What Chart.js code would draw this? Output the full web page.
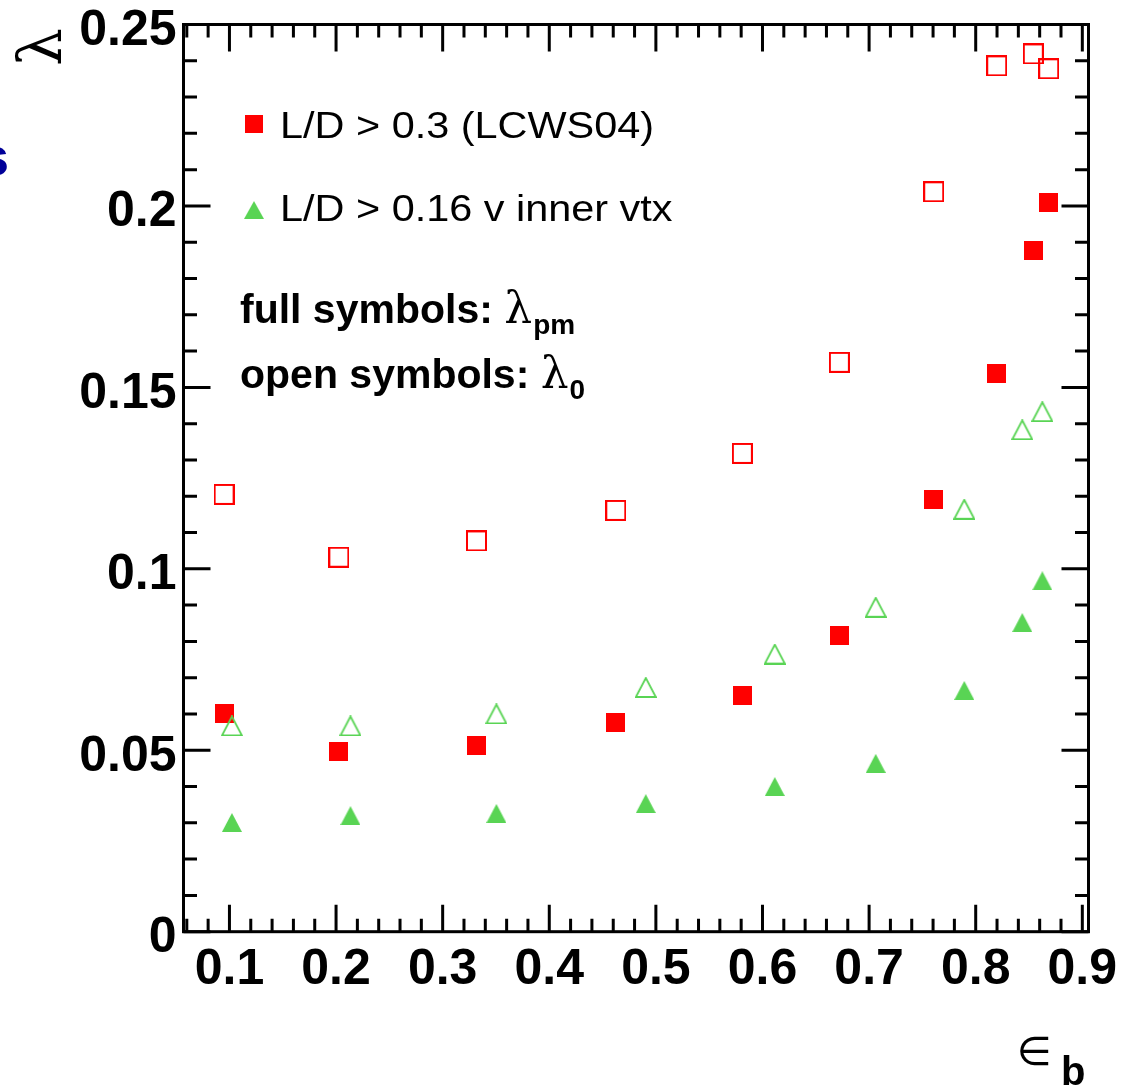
<!DOCTYPE html>
<html><head><meta charset="utf-8">
<script src="https://cdn.jsdelivr.net/npm/chart.js@4.4.1/dist/chart.umd.min.js"></script>
<style>html,body{margin:0;padding:0;background:#fff;overflow:hidden}canvas{display:block}</style>
</head><body>
<canvas id="c" width="1133" height="1087"></canvas>
<script>
// ---- data ----
const xTickValues = [0.1,0.2,0.3,0.4,0.5,0.6,0.7,0.8,0.9];
const xTickLabels = ['0.1','0.2','0.3','0.4','0.5','0.6','0.7','0.8','0.9'];
const yTickValues = [0,0.05,0.1,0.15,0.2,0.25];
const yTickLabels = ['0','0.05','0.1','0.15','0.2','0.25'];

const effRed        = [0.0950,0.2026,0.3317,0.4624,0.5811,0.6721,0.7606,0.8197,0.8540,0.8685];
const lambdaPmRed   = [0.0600,0.0496,0.0514,0.0576,0.0650,0.0816,0.1190,0.1539,0.1876,0.2009];
const lambda0Red    = [0.1205,0.1032,0.1077,0.1161,0.1318,0.1569,0.2039,0.2386,0.2419,0.2378];
const effGreen      = [0.1023,0.2135,0.3504,0.4905,0.6115,0.7062,0.7893,0.8437,0.8625];
const lambdaPmGreen = [0.0301,0.0320,0.0326,0.0353,0.0400,0.0464,0.0665,0.0852,0.0967];
const lambda0Green  = [0.0567,0.0567,0.0600,0.0673,0.0765,0.0894,0.1164,0.1383,0.1433];

const seriesLabels = ['L/D > 0.3 (LCWS04)', 'L/D > 0.16 v inner vtx'];

const RED = '#ff0000';
const GREEN = '#59d454';

// ---- marker images ----
function mk(w, h, fn) { const c = document.createElement('canvas'); c.width = w; c.height = h; fn(c.getContext('2d')); return c; }
const sqFull = mk(19, 19, g => { g.fillStyle = RED; g.fillRect(0, 0, 19, 19); });
const sqOpen = mk(21, 21, g => { g.strokeStyle = RED; g.lineWidth = 2; g.strokeRect(1, 1, 19, 19); });
const triFull = mk(20, 19, g => { g.fillStyle = GREEN; g.beginPath(); g.moveTo(0, 19); g.lineTo(20, 19); g.lineTo(10, 0); g.closePath(); g.fill(); });
const triOpen = mk(22, 21, g => { g.strokeStyle = GREEN; g.lineWidth = 1.8; g.beginPath(); g.moveTo(1, 20); g.lineTo(21, 20); g.lineTo(11, 1); g.closePath(); g.stroke(); });

const pts = (xs, ys) => xs.map((x, i) => ({ x: x, y: ys[i] }));

// ---- decorations plugin ----
const rootStyle = {
  id: 'rootStyle',
  afterDraw(chart) {
    const ctx = chart.ctx, a = chart.chartArea;
    const xs = chart.scales.x, ys = chart.scales.y;
    ctx.save();
    ctx.strokeStyle = '#000';
    ctx.lineWidth = 3;
    ctx.lineCap = 'butt';
    // frame
    ctx.strokeRect(a.left, a.top, a.right - a.left, a.bottom - a.top);
    // x ticks (bottom and top)
    ctx.beginPath();
    for (let i = 3; i <= 45; i++) {
      const v = i * 0.02;
      const px = xs.getPixelForValue(v);
      if (px < a.left || px > a.right) continue;
      const len = (i % 5 === 0) ? 27 : 13;
      ctx.moveTo(px, a.bottom); ctx.lineTo(px, a.bottom - len);
      ctx.moveTo(px, a.top); ctx.lineTo(px, a.top + len);
    }
    // y ticks (left and right)
    for (let i = 0; i <= 25; i++) {
      const v = i * 0.01;
      const py = ys.getPixelForValue(v);
      const len = (i % 5 === 0) ? 27 : 13.5;
      ctx.moveTo(a.left, py); ctx.lineTo(a.left + len, py);
      ctx.moveTo(a.right, py); ctx.lineTo(a.right - len, py);
    }
    ctx.stroke();

    // tick labels
    ctx.fillStyle = '#000';
    ctx.font = 'bold 50px "Liberation Sans", Arial, sans-serif';
    ctx.textBaseline = 'alphabetic';
    ctx.textAlign = 'center';
    xTickValues.forEach((v, i) => {
      ctx.fillText(xTickLabels[i], xs.getPixelForValue(v), a.bottom + 52);
    });
    ctx.textAlign = 'right';
    yTickValues.forEach((v, i) => {
      ctx.fillText(yTickLabels[i], a.left - 7, ys.getPixelForValue(v) + 20.5);
    });

    // axis titles
    ctx.save();
    ctx.translate(45, 47);
    ctx.rotate(-Math.PI / 2);
    ctx.textAlign = 'center';
    ctx.textBaseline = 'middle';
    ctx.font = '60px "DejaVu Serif", "Liberation Serif", serif';
    ctx.fillText('\u03bb', 0, 0);
    ctx.restore();

    ctx.textAlign = 'left';
    ctx.font = '40px "DejaVu Sans", sans-serif';
    ctx.fillText('\u2208', 1017, 1065);
    ctx.font = 'bold 40px "Liberation Sans", Arial, sans-serif';
    ctx.fillText('b', 1061, 1085);

    // clipped blue fragment at far left
    ctx.fillStyle = '#000099';
    ctx.textAlign = 'right';
    ctx.font = 'bold 54px "Liberation Sans", Arial, sans-serif';
    ctx.fillText('s', 9, 175);

    // legend
    ctx.drawImage(sqFull, 245, 115, 18, 18);
    ctx.drawImage(triFull, 244, 201, 20, 18);
    ctx.fillStyle = '#000';
    ctx.textAlign = 'left';
    ctx.font = '36px "Liberation Sans", Arial, sans-serif';
    const wRef = ctx.measureText(seriesLabels[0]).width;
    const sx = 374 / wRef;
    ctx.save(); ctx.translate(280, 138); ctx.scale(sx, 1); ctx.fillText(seriesLabels[0], 0, 0); ctx.restore();
    ctx.save(); ctx.translate(280, 221); ctx.scale(sx, 1); ctx.fillText(seriesLabels[1], 0, 0); ctx.restore();

    // annotation lines
    function richLine(prefix, sub, x, y) {
      ctx.font = 'bold 41px "Liberation Sans", Arial, sans-serif';
      ctx.fillText(prefix, x, y);
      let cx = x + ctx.measureText(prefix).width;
      ctx.font = '44px "DejaVu Serif", "Liberation Serif", serif';
      ctx.fillText('\u03bb', cx, y);
      cx += ctx.measureText('\u03bb').width;
      ctx.font = 'bold 28px "Liberation Sans", Arial, sans-serif';
      ctx.fillText(sub, cx + 1, y + 11);
    }
    richLine('full symbols: ', 'pm', 240, 323);
    richLine('open symbols: ', '0', 240, 388);
    ctx.restore();
  }
};

new Chart(document.getElementById('c'), {
  type: 'scatter',
  data: {
    datasets: [
      { label: 'λ0 ' + seriesLabels[1], data: pts(effGreen, lambda0Green), pointStyle: triOpen, pointRadius: 10 },
      { label: 'λpm ' + seriesLabels[1], data: pts(effGreen, lambdaPmGreen), pointStyle: triFull, pointRadius: 10 },
      { label: 'λ0 ' + seriesLabels[0], data: pts(effRed, lambda0Red), pointStyle: sqOpen, pointRadius: 10 },
      { label: 'λpm ' + seriesLabels[0], data: pts(effRed, lambdaPmRed), pointStyle: sqFull, pointRadius: 10 }
    ]
  },
  options: {
    responsive: false,
    animation: false,
    devicePixelRatio: 1,
    layout: { padding: { left: 183.5, right: 44.5, top: 24.5, bottom: 155.3 } },
    plugins: { legend: { display: false }, tooltip: { enabled: false } },
    scales: {
      x: { type: 'linear', min: 0.0569, max: 0.9058, display: false },
      y: { type: 'linear', min: 0, max: 0.25, display: false }
    }
  },
  plugins: [rootStyle]
});
</script>
</body></html>
